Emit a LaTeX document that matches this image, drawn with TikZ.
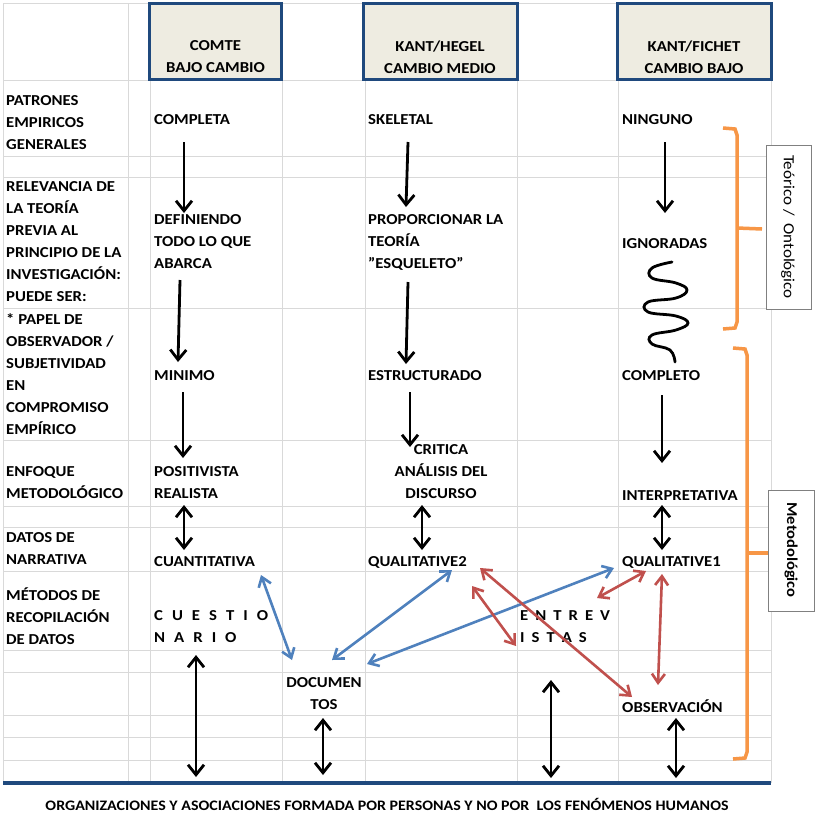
\documentclass[tikz,border=0pt]{standalone}
\usepackage{fontspec}
\setmainfont{Carlito}[FakeStretch=1.1]
\usetikzlibrary{arrows.meta}
\definecolor{gridc}{HTML}{D9D9D9}
\definecolor{navy}{HTML}{1F497D}
\definecolor{beige}{HTML}{EEECE1}
\definecolor{blu}{HTML}{4F81BD}
\definecolor{redd}{HTML}{C0504D}
\definecolor{orng}{HTML}{F79646}
\tikzset{
 txt/.style={inner sep=0pt,anchor=west,align=left,font=\bfseries\fontsize{15.2}{22}\selectfont},
 ctxt/.style={inner sep=0pt,align=center,font=\bfseries\fontsize{15.2}{22}\selectfont},
 hdr/.style={draw=navy,line width=3pt,fill=beige,minimum width=132pt,minimum height=76pt,inner sep=0pt},
 blk/.style={line width=2.8pt,-{Straight Barb[length=10pt,width=16pt]}},
 blk2/.style={line width=2.8pt,{Straight Barb[length=10pt,width=16pt]}-{Straight Barb[length=10pt,width=16pt]}},
 col2/.style={line width=2.6pt,{Straight Barb[length=9pt,width=13pt]}-{Straight Barb[length=9pt,width=13pt]}},
 brk/.style={draw=orng,line width=3.5pt},
 lbox/.style={draw=gray,fill=white,inner sep=0pt}
}
\begin{document}
\begin{tikzpicture}[x=1pt,y=-1pt]
\useasboundingbox (0,0) rectangle (816,815);
\fill[white] (0,0) rectangle (816,815);
% grid
\foreach \y in {3,80,156,177,308,440,506,527,571,650,672,715,737,760}
  \draw[gridc,line width=1pt] (3,\y) -- (771,\y);
\foreach \x in {3,128,150,282,365,517,618,771}
  \draw[gridc,line width=1pt] (\x,3) -- (\x,783);
\draw[navy,line width=4pt] (3,783) -- (771,783);
% headers
\node[hdr] (h1) at (215.5,41.5) {};
\node[ctxt] (h1t) at (215.5,57) {COMTE\\BAJO CAMBIO};
\node[hdr,minimum width=154pt] (h2) at (440,41.5) {};
\node[ctxt] (h2t) at (440,57) {KANT/HEGEL\\CAMBIO MEDIO};
\node[hdr,minimum width=154pt] (h3) at (694,41.5) {};
\node[ctxt] (h3t) at (694,57) {KANT/FICHET\\CAMBIO BAJO};
% row labels
\node[txt,anchor=north west] (r1) at (6,95) {PATRONES\\EMPIRICOS\\GENERALES};
\node[txt,anchor=north west] (r2) at (6,181) {RELEVANCIA DE\\LA TEORÍA\\PREVIA AL\\PRINCIPIO DE LA\\INVESTIGACIÓN:\\PUEDE SER:};
\node[txt,anchor=north west] (r3) at (6,313) {* PAPEL DE\\OBSERVADOR /\\SUBJETIVIDAD\\EN\\COMPROMISO\\EMPÍRICO};
\node[txt,anchor=north west] (r4) at (6,466) {ENFOQUE\\METODOLÓGICO};
\node[txt,anchor=north west] (r5) at (6,532) {DATOS DE\\NARRATIVA};
\node[txt,anchor=north west] (r6) at (6,588) {MÉTODOS DE\\RECOPILACIÓN\\DE DATOS};
% column C
\node[txt] (c1) at (154,120) {COMPLETA};
\node[txt,anchor=north west] (c2) at (154,214) {DEFINIENDO\\TODO LO QUE\\ABARCA};
\node[txt] (c3) at (154,376) {MINIMO};
\node[txt,anchor=north west] (c4) at (154,466) {POSITIVISTA\\REALISTA};
\node[txt] (c5) at (154,562) {CUANTITATIVA};
\node[txt,anchor=north west] (c6) at (154,610) {C\hspace{9pt}U\hspace{9pt}E\hspace{9pt}S\hspace{9pt}T\hspace{9pt}I\hspace{9pt}O\\N\hspace{9pt}A\hspace{9pt}R\hspace{9pt}I\hspace{9pt}O};
% column E
\node[txt] (e1) at (368,120) {SKELETAL};
\node[txt,anchor=north west] (e2) at (368,214) {PROPORCIONAR LA\\TEORÍA\\\symbol{34}ESQUELETO\symbol{34}};
\node[txt] (e3) at (368,376) {ESTRUCTURADO};
\node[ctxt,anchor=north] (e4) at (441,444) {CRITICA\\ANÁLISIS DEL\\DISCURSO};
\node[txt] (e5) at (368,562) {QUALITATIVE2};
\node[ctxt,anchor=north] (d1) at (324,677) {DOCUMEN\\TOS};
\node[txt,anchor=north west] (en) at (520,610) {E\hspace{7pt}N\hspace{7pt}T\hspace{7pt}R\hspace{7pt}E\hspace{7pt}V\\I\hspace{7pt}S\hspace{7pt}T\hspace{7pt}A\hspace{7pt}S};
% column G
\node[txt] (g1) at (622,120) {NINGUNO};
\node[txt] (g2) at (622,244) {IGNORADAS};
\node[txt] (g3) at (622,376) {COMPLETO};
\node[txt] (g4) at (622,496) {INTERPRETATIVA};
\node[txt] (g5) at (622,562) {QUALITATIVE1};
\node[txt] (g6) at (622,706) {OBSERVACIÓN};
\node[ctxt,font=\bfseries\fontsize{14.5}{20}\selectfont] (bt) at (387,804) {ORGANIZACIONES Y ASOCIACIONES FORMADA POR PERSONAS Y NO POR\ \ LOS FENÓMENOS HUMANOS};
% coordinates for arrows
\coordinate (a1s) at (184,142); \coordinate (a1e) at (184,213);
\coordinate (a2s) at (180,280); \coordinate (a2e) at (178,362);
\coordinate (a3s) at (183,392); \coordinate (a3e) at (183,458);
\coordinate (b1s) at (408,142); \coordinate (b1e) at (406,207);
\coordinate (b2s) at (408,282); \coordinate (b2e) at (406,364);
\coordinate (b3s) at (410,392); \coordinate (b3e) at (410,447);
\coordinate (g1s) at (665,142); \coordinate (g1e) at (665,213);
\coordinate (g2s) at (662,395); \coordinate (g2e) at (662,463);
\draw[blk] (a1s) -- (a1e); \draw[blk] (a2s) -- (a2e); \draw[blk] (a3s) -- (a3e);
\draw[blk] (b1s) -- (b1e); \draw[blk] (b2s) -- (b2e); \draw[blk] (b3s) -- (b3e);
\draw[blk] (g1s) -- (g1e); \draw[blk] (g2s) -- (g2e);
\draw[blk2] (184,505) -- (184,550);
\draw[blk2] (422,505) -- (422,550);
\draw[blk2] (662,505) -- (662,550);
\draw[blk2] (196,655) -- (196,777);
\draw[blk2] (323,718) -- (323,775);
\draw[blk2] (551,680) -- (551,778);
\draw[blk2] (676,718) -- (676,778);
% colored
\draw[col2,blu] (261,575) -- (292,660);
\draw[col2,blu] (452,570) -- (332,660);
\draw[col2,blu] (614,568) -- (367,664);
\draw[col2,redd] (480,568) -- (632,697);
\draw[col2,redd] (472,586) -- (516,646);
\draw[col2,redd] (597,598) -- (646,571);
\draw[col2,redd] (662,574) -- (658,685);
% wiggle
\draw[line width=2.8pt,line cap=round] plot[smooth,tension=0.7] coordinates {
 (672,262) (652,268) (652,278) (676,283) (687,290) (676,298) (648,302) (648,312) (676,316) (688,323) (676,330) (652,335) (652,344) (670,350) (675,362)};
% brackets
\draw[brk] (723,128) -- (735,129) -- (737,135) -- (737,322) -- (735,328) -- (723,329);
\draw[brk] (737,228) -- (762,229);
\draw[brk] (733,348) -- (745,349) -- (747,355) -- (747,752) -- (745,758) -- (733,759);
\draw[brk] (747,553) -- (770,553);
\node[lbox,minimum width=45pt,minimum height=164pt] (lb1) at (788.5,227) {};
\node[rotate=-90,inner sep=0pt,font=\fontsize{15.5}{17}\selectfont] (lt1) at (788,227) {Teórico /\ \ Ontológico};
\node[lbox,minimum width=46pt,minimum height=121pt] (lb2) at (791,550.5) {};
\node[rotate=-90,inner sep=0pt,font=\bfseries\fontsize{15}{17}\selectfont] (lt2) at (791,550) {Metodológico};
\end{tikzpicture}
\end{document}
